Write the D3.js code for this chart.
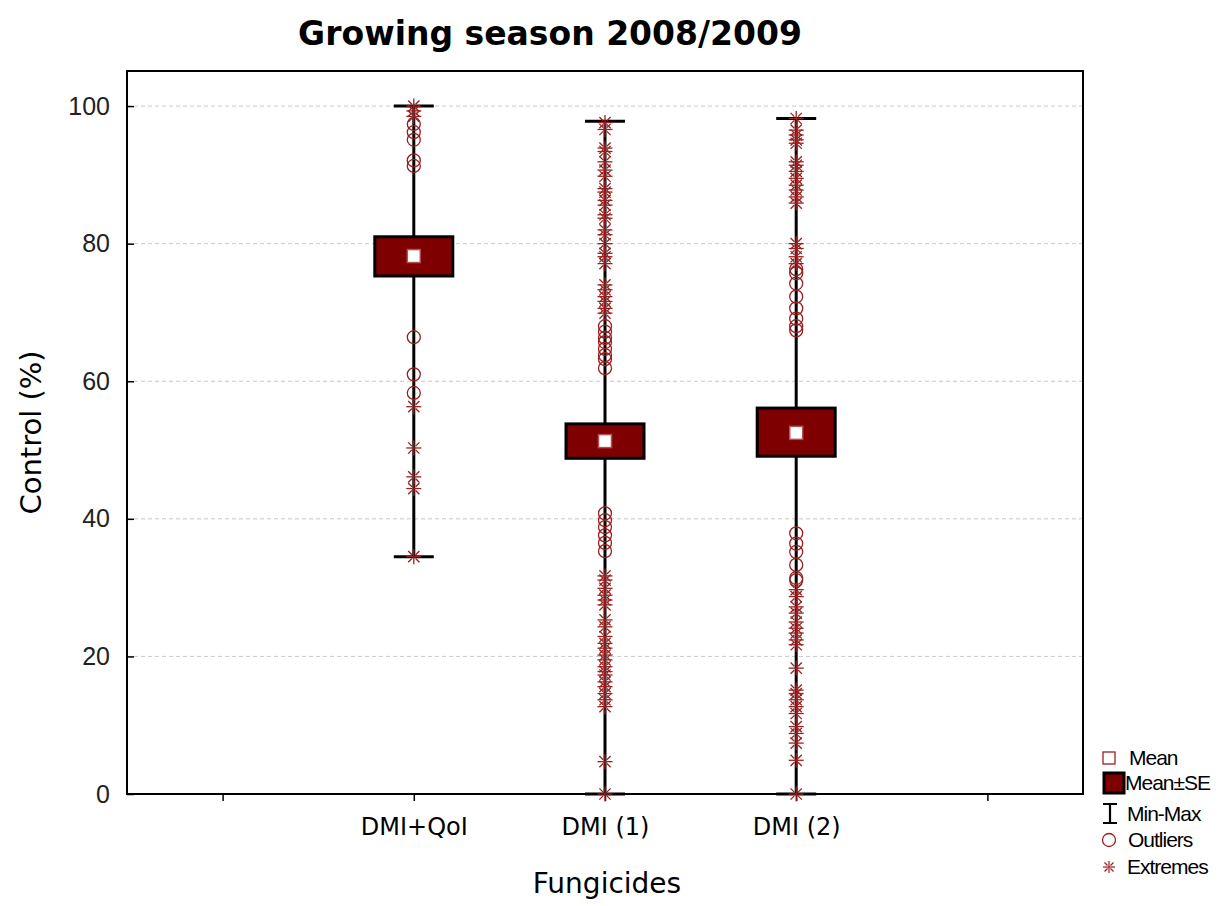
<!DOCTYPE html>
<html>
<head>
<meta charset="utf-8">
<title>Growing season 2008/2009</title>
<script src="https://cdn.jsdelivr.net/npm/d3@7"></script>
<style>
	body { margin: 0; background: #fff; }
	.grid line { stroke: #c8c8c8; stroke-dasharray: 4,3; }
	.tick-label { font-family: "Liberation Sans", Arial, sans-serif; font-size: 25px; fill: #222; }
	.comic { font-family: "Comic Sans MS", "DejaVu Sans", sans-serif; fill: #000; }
	.legend text { font-family: "Liberation Sans", Arial, sans-serif; font-size: 21px; letter-spacing: -1px; fill: #000; stroke: none; }
</style>
</head>
<body>
<div id="chart"></div>
<script>

// categories on the x axis
var categories = ["DMI+QoI", "DMI (1)", "DMI (2)"];

// summary values, one per category
var means  = [78.2, 51.3, 52.5];
var seLow  = [75.3, 48.8, 49.1];
var seHigh = [81.0, 53.8, 56.1];
var mins   = [34.5, 0, 0];
var maxs   = [100, 97.8, 98.2];

// outliers (circles), one list per category
var outliers = [
	[97.4, 96.2, 95.1, 92.1, 91.3, 66.4, 61.0, 58.3],
	[68.0, 67.2, 66.3, 65.7, 64.7, 63.8, 63.2, 61.9,
	 40.8, 39.8, 38.8, 37.6, 36.5, 35.3],
	[76.3, 75.7, 74.2, 72.3, 70.6, 69.1, 68.0, 67.4,
	 37.9, 36.4, 35.2, 33.3, 31.4, 31.1]
];

// extremes (asterisks), one list per category
var extremes = [
	[100, 99.3, 98.5, 56.3, 50.3, 46.1, 44.4, 34.5],
	[97.6, 96.6, 93.9, 93.4, 91.9, 90.7, 89.8, 88.0, 87.5, 86.3, 85.6, 84.2, 83.7,
	 82.0, 81.3, 80.0, 78.6, 78.1, 77.1, 74.0, 73.3, 72.3, 71.6, 70.6, 69.9,
	 31.7, 31.1, 29.9, 28.9, 28.2, 27.5, 25.3, 24.3, 22.9, 21.9, 21.2, 20.2, 19.5,
	 18.5, 17.8, 17.3, 16.3, 15.6, 14.6, 13.7, 12.7, 4.7, 0],
	[98.2, 96.5, 95.8, 95.1, 94.6, 91.9, 91.4, 90.5, 89.5, 88.5, 87.8, 86.8, 85.9,
	 80.0, 79.3, 78.1, 77.1,
	 29.7, 28.7, 27.2, 26.3, 25.0, 24.1, 23.4, 22.4, 21.7, 18.3, 15.1, 14.6, 13.7,
	 12.7, 11.7, 9.8, 8.8, 7.4, 4.9, 0]
];

var yTicks = [0, 20, 40, 60, 80, 100];

var legendLabels = ["Mean", "Mean\u00b1SE", "Min-Max", "Outliers", "Extremes"];


/*
 *  BoxChart - Object constructor function
 *  @param _parentElement   -- HTML element in which to draw the visualization
 */

BoxChart = function(_parentElement) {

	this.parentElement = _parentElement;

	this.initVis();
}


/*
 *  Initialize chart
 */

BoxChart.prototype.initVis = function() {
	var vis = this;

	vis.margin = {top: 71, right: 136, bottom: 112, left: 127};

	vis.width = 1219 - vis.margin.left - vis.margin.right;
	vis.height = 906 - vis.margin.top - vis.margin.bottom;

	vis.red = "#9c1f1f";
	vis.boxFill = "#7f0000";

	vis.root = d3.select('#' + vis.parentElement).append("svg")
		.attr("width", 1219)
		.attr("height", 906);

	vis.svg = vis.root.append("g")
		.attr("transform", "translate(" + vis.margin.left + "," + vis.margin.top + ")");

	// SCALES //
	// two empty slots either side, like the original
	vis.x = d3.scalePoint()
		.domain(["_pad0"].concat(categories).concat(["_pad1"]))
		.range([0, vis.width])
		.padding(0.5);

	vis.y = d3.scaleLinear()
		.domain([0, 105.1])
		.range([vis.height, 0]);

	// GRID //
	vis.svg.append("g")
		.attr("class", "grid")
		.selectAll("line")
		.data(yTicks.filter(function(d) { return d > 0; }))
		.enter().append("line")
		.attr("x1", 0)
		.attr("x2", vis.width)
		.attr("y1", function(d) { return vis.y(d); })
		.attr("y2", function(d) { return vis.y(d); });

	// AXES //
	vis.yAxis = d3.axisLeft(vis.y).tickValues(yTicks).tickSize(-7).tickPadding(17);
	var yg = vis.svg.append("g").call(vis.yAxis);
	yg.select(".domain").remove();
	yg.selectAll(".tick line").attr("stroke", "#000").attr("stroke-width", 1.5);
	yg.selectAll("text").attr("class", "tick-label").attr("font-family", null).attr("font-size", null);

	vis.xAxis = d3.axisBottom(vis.x).tickSize(-7).tickFormat(function(d) {
		return d.indexOf("_pad") === 0 ? "" : d;
	}).tickPadding(24);
	var xg = vis.svg.append("g")
		.attr("transform", "translate(0," + vis.height + ")")
		.call(vis.xAxis);
	xg.select(".domain").remove();
	xg.selectAll(".tick line").attr("stroke", "#000").attr("stroke-width", 1.5)
		.attr("y2", 7);
	xg.selectAll("text")
		.attr("class", "comic")
		.attr("font-family", null)
		.attr("font-size", null)
		.style("font-size", "24px");

	// frame
	vis.svg.append("rect")
		.attr("width", vis.width)
		.attr("height", vis.height)
		.attr("fill", "none")
		.attr("stroke", "#000")
		.attr("stroke-width", 2);

	// TITLES //
	vis.root.append("text")
		.attr("class", "comic")
		.attr("x", 550)
		.attr("y", 45)
		.attr("text-anchor", "middle")
		.style("font-size", "33px")
		.style("font-weight", "bold")
		.text("Growing season 2008/2009");

	vis.root.append("text")
		.attr("class", "comic")
		.attr("transform", "translate(41," + (vis.margin.top + vis.height / 2) + ") rotate(-90)")
		.attr("text-anchor", "middle")
		.style("font-size", "29px")
		.text("Control (%)");

	vis.root.append("text")
		.attr("class", "comic")
		.attr("x", vis.margin.left + vis.width / 2 + 2)
		.attr("y", 893)
		.attr("text-anchor", "middle")
		.style("font-size", "28px")
		.text("Fungicides");

	vis.updateVis();
	vis.drawLegend();
}


/*
 *  Star symbol used for extremes
 */

BoxChart.prototype.star = function(sel, r) {
	var d = r * 0.75;
	sel.append("line").attr("x1", -r).attr("x2", r).attr("y1", 0).attr("y2", 0);
	sel.append("line").attr("x1", 0).attr("x2", 0).attr("y1", -r).attr("y2", r);
	sel.append("line").attr("x1", -d).attr("x2", -d / 3).attr("y1", -d).attr("y2", -d / 3);
	sel.append("line").attr("x1", d).attr("x2", d / 3).attr("y1", -d).attr("y2", -d / 3);
	sel.append("line").attr("x1", -d).attr("x2", -d / 3).attr("y1", d).attr("y2", d / 3);
	sel.append("line").attr("x1", d).attr("x2", d / 3).attr("y1", d).attr("y2", d / 3);
}


/*
 *  The drawing function
 */

BoxChart.prototype.updateVis = function() {

	var vis = this;

	var boxW = 78, capW = 40;

	var rows = categories.map(function(c, i) {
		return {cat: c, mean: means[i], lo: seLow[i], hi: seHigh[i], min: mins[i], max: maxs[i],
			out: outliers[i], ext: extremes[i]};
	});

	var g = vis.svg.selectAll(".box")
		.data(rows)
		.enter().append("g")
		.attr("class", "box")
		.attr("transform", function(d) { return "translate(" + vis.x(d.cat) + ",0)"; });

	// whisker
	g.append("line")
		.attr("y1", function(d) { return vis.y(d.min); })
		.attr("y2", function(d) { return vis.y(d.max); })
		.attr("stroke", "#000")
		.attr("stroke-width", 3);

	// caps
	["min", "max"].forEach(function(k) {
		g.append("line")
			.attr("x1", -capW / 2)
			.attr("x2", capW / 2)
			.attr("y1", function(d) { return vis.y(d[k]); })
			.attr("y2", function(d) { return vis.y(d[k]); })
			.attr("stroke", "#000")
			.attr("stroke-width", 3);
	});

	// mean +- SE box
	g.append("rect")
		.attr("x", -boxW / 2)
		.attr("width", boxW)
		.attr("y", function(d) { return vis.y(d.hi); })
		.attr("height", function(d) { return vis.y(d.lo) - vis.y(d.hi); })
		.attr("fill", vis.boxFill)
		.attr("stroke", "#000")
		.attr("stroke-width", 3);

	// mean
	g.append("rect")
		.attr("x", -6.5)
		.attr("width", 13)
		.attr("y", function(d) { return vis.y(d.mean) - 6.5; })
		.attr("height", 13)
		.attr("fill", "#fff")
		.attr("stroke", "#b05050")
		.attr("stroke-width", 1.5);

	// outliers
	g.selectAll(".out")
		.data(function(d) { return d.out; })
		.enter().append("circle")
		.attr("class", "out")
		.attr("cy", function(v) { return vis.y(v); })
		.attr("r", 6.5)
		.attr("fill", "none")
		.attr("stroke", vis.red)
		.attr("stroke-width", 1.3);

	// extremes
	g.selectAll(".ext")
		.data(function(d) { return d.ext; })
		.enter().append("g")
		.attr("class", "ext")
		.attr("transform", function(v) { return "translate(0," + vis.y(v) + ")"; })
		.attr("stroke", vis.red)
		.attr("stroke-width", 1.3)
		.each(function() { vis.star(d3.select(this), 7.5); });
}


/*
 *  Legend, bottom right corner
 */

BoxChart.prototype.drawLegend = function() {
	var vis = this;

	var ys = [758, 783, 814, 840, 867];
	var tx = [20, 16, 18, 19, 18];

	var lg = vis.root.append("g").attr("class", "legend");

	var item = lg.selectAll(".item")
		.data(legendLabels)
		.enter().append("g")
		.attr("class", "item")
		.attr("transform", function(d, i) { return "translate(1109," + ys[i] + ")"; });

	var sym = item.filter(function(d, i) { return i == 0; });
	sym.append("rect").attr("x", -6).attr("y", -6).attr("width", 12).attr("height", 12)
		.attr("fill", "none").attr("stroke", vis.red).attr("stroke-width", 1.3);

	sym = item.filter(function(d, i) { return i == 1; });
	sym.append("rect").attr("x", -5).attr("y", -10).attr("width", 20).attr("height", 20)
		.attr("fill", vis.boxFill).attr("stroke", "#000").attr("stroke-width", 3);

	sym = item.filter(function(d, i) { return i == 2; });
	sym.append("path").attr("d", "M-6,-10H8M1,-10V9M-6,9H8")
		.attr("fill", "none").attr("stroke", "#000").attr("stroke-width", 2.2);

	sym = item.filter(function(d, i) { return i == 3; });
	sym.append("circle").attr("r", 6.5).attr("fill", "none")
		.attr("stroke", vis.red).attr("stroke-width", 1.3);

	sym = item.filter(function(d, i) { return i == 4; });
	sym.append("g").attr("stroke", vis.red).attr("stroke-width", 1.2).each(function() {
		vis.star(d3.select(this), 6);
	});

	item.append("text")
		.attr("x", function(d, i) { return tx[i]; })
		.attr("y", 7)
		.text(function(d) { return d; });
}


var chart = new BoxChart("chart");

</script>
</body>
</html>
